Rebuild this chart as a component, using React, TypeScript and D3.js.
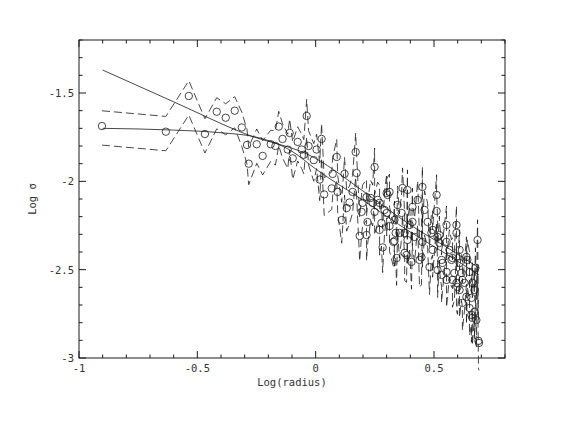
import * as d3 from "d3";

const W = 564;
const H = 436;

// measured profile: [log radius, log sigma, relative error]
const points: [number, number, number][] = [
  [-0.903, -1.687, 0.22], [-0.633, -1.719, 0.22], [-0.536, -1.517, 0.22], [-0.468, -1.732, 0.22],
  [-0.418, -1.606, 0.2], [-0.38, -1.64, 0.2], [-0.342, -1.6, 0.2], [-0.312, -1.695, 0.22],
  [-0.29, -1.794, 0.22], [-0.283, -1.9, 0.24], [-0.249, -1.79, 0.22], [-0.224, -1.856, 0.22],
  [-0.19, -1.79, 0.2], [-0.17, -1.8, 0.22], [-0.156, -1.69, 0.22], [-0.14, -1.76, 0.22],
  [-0.118, -1.82, 0.22], [-0.11, -1.726, 0.2], [-0.097, -1.87, 0.24], [-0.076, -1.777, 0.22],
  [-0.059, -1.82, 0.22], [-0.05, -1.85, 0.22], [-0.038, -1.63, 0.24], [-0.03, -1.8, 0.22],
  [-0.008, -1.88, 0.24], [0.004, -1.82, 0.22], [0.017, -1.99, 0.24], [0.025, -1.76, 0.22],
  [0.036, -2.074, 0.24], [0.068, -2.04, 0.24], [0.072, -1.958, 0.24], [0.089, -1.862, 0.26],
  [0.093, -2.06, 0.24], [0.11, -2.219, 0.26], [0.122, -1.958, 0.24], [0.131, -2.151, 0.26],
  [0.143, -2.12, 0.24], [0.156, -2.06, 0.24], [0.169, -1.834, 0.28], [0.173, -1.953, 0.26],
  [0.186, -2.309, 0.28], [0.194, -2.173, 0.26], [0.198, -2.122, 0.26], [0.215, -2.089, 0.26],
  [0.215, -2.304, 0.28], [0.219, -2.23, 0.26], [0.232, -2.094, 0.26], [0.241, -2.122, 0.26],
  [0.249, -1.919, 0.28], [0.249, -2.173, 0.26], [0.262, -2.105, 0.26], [0.27, -2.122, 0.26],
  [0.27, -2.275, 0.28], [0.278, -2.236, 0.26], [0.283, -2.374, 0.28], [0.291, -2.162, 0.26],
  [0.3, -2.066, 0.28], [0.3, -2.179, 0.26], [0.304, -2.077, 0.26], [0.312, -2.06, 0.26],
  [0.312, -2.253, 0.28], [0.329, -2.343, 0.28], [0.333, -2.219, 0.28], [0.333, -2.338, 0.28],
  [0.338, -2.292, 0.28], [0.342, -2.434, 0.3], [0.346, -2.134, 0.28], [0.354, -2.292, 0.28],
  [0.363, -2.179, 0.28], [0.367, -2.038, 0.3], [0.376, -2.292, 0.28], [0.376, -2.405, 0.3],
  [0.384, -2.417, 0.3], [0.388, -2.049, 0.3], [0.388, -2.332, 0.28], [0.397, -2.247, 0.28],
  [0.405, -2.456, 0.3], [0.409, -2.145, 0.28], [0.409, -2.23, 0.28], [0.418, -2.315, 0.28],
  [0.431, -2.105, 0.28], [0.439, -2.445, 0.3], [0.447, -2.43, 0.3], [0.451, -2.032, 0.3],
  [0.451, -2.343, 0.28], [0.46, -2.162, 0.28], [0.473, -2.23, 0.28], [0.481, -2.485, 0.3],
  [0.489, -2.292, 0.28], [0.494, -2.275, 0.28], [0.494, -2.388, 0.3], [0.511, -2.077, 0.3],
  [0.511, -2.168, 0.28], [0.515, -2.315, 0.28], [0.515, -2.502, 0.3], [0.523, -2.304, 0.28],
  [0.523, -2.349, 0.3], [0.532, -2.445, 0.3], [0.532, -2.53, 0.3], [0.536, -2.462, 0.3],
  [0.553, -2.247, 0.28], [0.553, -2.343, 0.3], [0.553, -2.513, 0.3], [0.553, -2.558, 0.3],
  [0.565, -2.388, 0.3], [0.574, -2.445, 0.3], [0.578, -2.434, 0.3], [0.578, -2.558, 0.3],
  [0.586, -2.519, 0.3], [0.595, -2.247, 0.28], [0.595, -2.292, 0.3], [0.595, -2.575, 0.3],
  [0.599, -2.598, 0.3], [0.608, -2.388, 0.3], [0.608, -2.462, 0.3], [0.608, -2.615, 0.3],
  [0.616, -2.519, 0.3], [0.62, -2.558, 0.3], [0.62, -2.688, 0.3], [0.629, -2.575, 0.3],
  [0.637, -2.428, 0.3], [0.637, -2.654, 0.3], [0.641, -2.445, 0.3], [0.65, -2.513, 0.3],
  [0.65, -2.717, 0.3], [0.658, -2.66, 0.3], [0.658, -2.756, 0.3], [0.662, -2.575, 0.3],
  [0.662, -2.773, 0.3], [0.671, -2.615, 0.3], [0.671, -2.739, 0.3], [0.675, -2.49, 0.3],
  [0.679, -2.785, 0.3], [0.684, -2.332, 0.3], [0.688, -2.903, 0.3], [0.69, -2.915, 0.3],
];

// power-law fit (steeper one)
const fitLine: [number, number][] = [
  [-0.9, -1.37], [-0.6, -1.55], [-0.3, -1.73], [0, -1.87], [0.2, -2.055],
  [0.4, -2.247], [0.55, -2.37], [0.69, -2.49],
];

// cored model profile
const modelCurve: [number, number][] = [
  [-0.9, -1.7], [-0.6, -1.71], [-0.4, -1.725], [-0.25, -1.75], [-0.1, -1.83],
  [0, -1.93], [0.2, -2.107], [0.4, -2.287], [0.55, -2.41], [0.69, -2.53],
];

const xTicks = [-1, -0.5, 0, 0.5];
const xTickLabels = ["-1", "-0.5", "0", "0.5"];
const yTicks = [-3, -2.5, -2, -1.5];
const yTickLabels = ["-3", "-2.5", "-2", "-1.5"];

const left = 79, right = 505, top = 40, bottom = 358;
const font = "'DejaVu Sans Mono', monospace";
const ink = "#1a1a1a";
const textInk = "#333";

export default function App() {
  const x = d3.scaleLinear().domain([-1, 0.8]).range([left, right]);
  const y = d3.scaleLinear().domain([-3, -1.2]).range([bottom, top]);

  const sorted = [...points].sort((a, b) => a[0] - b[0]);
  const envelope = d3.line<[number, number]>().x((d) => x(d[0])).y((d) => y(d[1]));
  const upper = envelope(sorted.map((p) => [p[0], p[1] + Math.log10(1 + p[2])]));
  const lower = envelope(sorted.map((p) => [p[0], p[1] + Math.log10(1 - p[2])]));

  const smooth = d3
    .line<[number, number]>()
    .x((d) => x(d[0]))
    .y((d) => y(d[1]))
    .curve(d3.curveMonotoneX);

  const xMinor = x.ticks(18);
  const yMinor = y.ticks(18);
  const isMajor = (v: number) => Math.abs(v * 2 - Math.round(v * 2)) < 1e-6;

  return (
    <svg width={W} height={H} style={{ position: "absolute", left: 0, top: 0, background: "#fff" }}>
      <g fill="none" stroke={ink} strokeWidth={0.8}>
        <path d={upper ?? ""} strokeDasharray="8,4" />
        <path d={lower ?? ""} strokeDasharray="8,4" />
        <path d={smooth(fitLine) ?? ""} />
        <path d={smooth(modelCurve) ?? ""} />
        {points.map((p, i) => (
          <circle key={i} cx={x(p[0])} cy={y(p[1])} r={3.7} />
        ))}
      </g>

      <g stroke={ink} strokeWidth={1}>
        <rect x={left} y={top} width={right - left} height={bottom - top} fill="none" />
        {xMinor.map((v, i) => {
          const len = isMajor(v) ? 7 : 3.5;
          return (
            <g key={"x" + i}>
              <line x1={x(v)} x2={x(v)} y1={bottom} y2={bottom - len} />
              <line x1={x(v)} x2={x(v)} y1={top} y2={top + len} />
            </g>
          );
        })}
        {yMinor.map((v, i) => {
          const len = isMajor(v) ? 7 : 3.5;
          return (
            <g key={"y" + i}>
              <line x1={left} x2={left + len} y1={y(v)} y2={y(v)} />
              <line x1={right} x2={right - len} y1={y(v)} y2={y(v)} />
            </g>
          );
        })}
      </g>

      <g fontFamily={font} fontSize={10.5} fill={textInk}>
        {xTicks.map((v, i) => (
          <text key={"xl" + i} x={x(v)} y={bottom + 14} textAnchor="middle">
            {xTickLabels[i]}
          </text>
        ))}
        {yTicks.map((v, i) => (
          <text key={"yl" + i} x={left - 5} y={y(v) + 4} textAnchor="end">
            {yTickLabels[i]}
          </text>
        ))}
        <text x={(left + right) / 2} y={bottom + 28} textAnchor="middle">
          Log(radius)
        </text>
        <text
          transform={`translate(36,${(top + bottom) / 2}) rotate(-90)`}
          textAnchor="middle"
        >
          Log σ
        </text>
      </g>
    </svg>
  );
}
